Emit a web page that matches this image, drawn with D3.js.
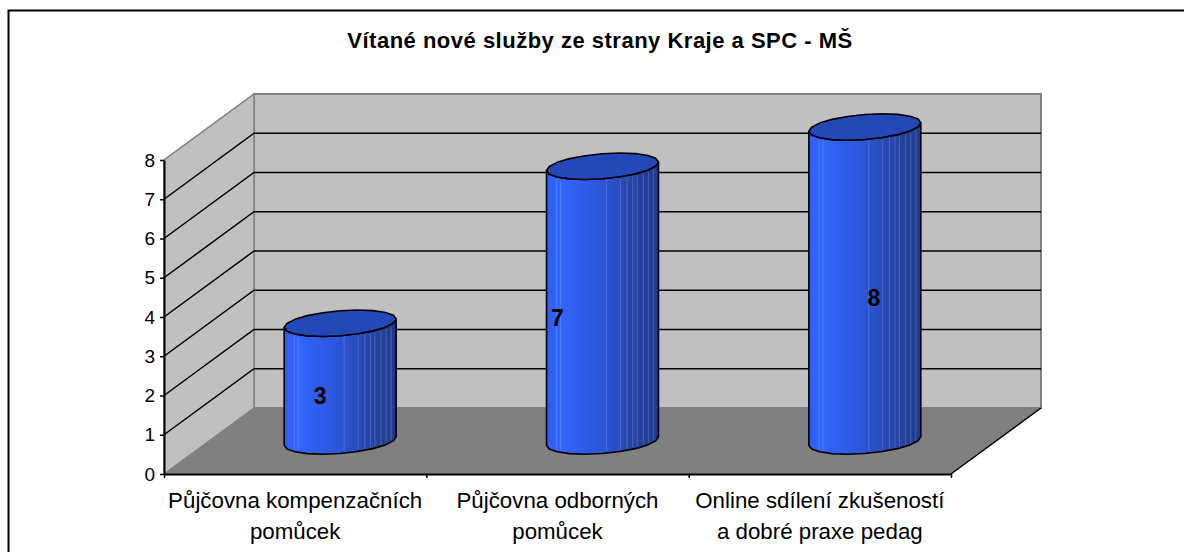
<!DOCTYPE html>
<html>
<head>
    <meta charset="utf-8">
    <title>Vítané nové služby</title>
    <script src="https://d3js.org/d3.v7.min.js"></script>
    <style>
        body, html { margin: 0; padding: 0; background: #fff; overflow: hidden; }
        text { font-family: 'Liberation Sans', Arial, sans-serif; fill: #000; }
        .title { font-size: 22px; font-weight: bold; text-anchor: middle; letter-spacing: 0.5px; }
        .cat-label { font-size: 22.3px; text-anchor: middle; }
        .val-label { font-size: 23px; font-weight: bold; text-anchor: middle; }
        .y-axis text { font-size: 19px; }
    </style>
</head>
<body>
<script>
    const titleText = "Vítané nové služby ze strany Kraje a SPC - MŠ";
    const categories = [
        ["Půjčovna kompenzačních", "pomůcek"],
        ["Půjčovna odborných", "pomůcek"],
        ["Online sdílení zkušeností", "a dobré praxe pedag"]
    ];
    const values = [3, 7, 8];
    const yTicks = [0, 1, 2, 3, 4, 5, 6, 7, 8];
    // hand placed labels in the original, sideways offset from the bar centre
    const labelShift = [-20, -45, 9];
    // light seams on the cylinder side, as a fraction of its width
    const seams = [0.09, 0.125, 0.535, 0.66, 0.72, 0.77, 0.81, 0.865, 0.91, 0.955];

    const width = 1184, height = 552;
    const depthX = 90, depthY = -66;

    const y = d3.scaleLinear().domain([0, 8]).range([474, 160]);
    const x = d3.scaleLinear().domain([0, 3]).range([164, 951]);

    const svg = d3.select("body").append("svg")
        .attr("width", width)
        .attr("height", height);

    const defs = svg.append("defs");
    const grad = defs.append("linearGradient").attr("id", "side");
    [[0, "#2e5ef0"], [0.12, "#3366ff"], [0.5, "#2c55d6"], [0.8, "#24449f"], [1, "#1f3a8c"]].forEach(s => {
        grad.append("stop").attr("offset", s[0]).attr("stop-color", s[1]);
    });

    // outer frame, runs off the picture on the right and bottom
    svg.append("rect")
        .attr("x", 8.5).attr("y", 10.5)
        .attr("width", 1300).attr("height", 700)
        .attr("fill", "#fff")
        .attr("stroke", "#000")
        .attr("stroke-width", 2);

    svg.append("text").attr("class", "title")
        .attr("x", 600).attr("y", 48)
        .text(titleText);

    const poly = d3.line();
    const x0 = x(0), x1 = x(3), y0 = y(0), y8 = y(8);

    // back wall
    svg.append("path")
        .attr("d", poly([[x0 + depthX, y8 + depthY], [x1 + depthX, y8 + depthY], [x1 + depthX, y0 + depthY], [x0 + depthX, y0 + depthY]]) + "Z")
        .attr("fill", "#c0c0c0").attr("stroke", "#808080").attr("stroke-width", 2);

    // side wall
    svg.append("path")
        .attr("d", poly([[x0, y0], [x0, y8], [x0 + depthX, y8 + depthY], [x0 + depthX, y0 + depthY]]) + "Z")
        .attr("fill", "#c0c0c0").attr("stroke", "#808080").attr("stroke-width", 1.5);

    // floor
    svg.append("path")
        .attr("d", poly([[x0, y0], [x1, y0], [x1 + depthX, y0 + depthY], [x0 + depthX, y0 + depthY]]) + "Z")
        .attr("fill", "#808080");

    // gridlines, side wall + back wall
    const grid = svg.append("g").attr("stroke", "#000").attr("stroke-width", 1.5).attr("fill", "none");
    yTicks.filter(d => d > 0 && d < 8).forEach(d => {
        grid.append("path")
            .attr("d", poly([[x0, y(d)], [x0 + depthX, y(d) + depthY], [x1 + depthX, y(d) + depthY]]));
    });

    svg.append("path")
        .attr("d", poly([[x1, y0], [x1 + depthX, y0 + depthY]]))
        .attr("stroke", "#000").attr("stroke-width", 1.5);

    // axes
    const yAxis = svg.append("g").attr("class", "y-axis")
        .attr("transform", `translate(${x0},0)`)
        .call(d3.axisLeft(y).tickValues(yTicks).tickSize(4).tickSizeOuter(0).tickPadding(5));
    yAxis.selectAll("line").attr("stroke", "#000").attr("stroke-width", 1.5);
    yAxis.select(".domain").attr("stroke", "#000").attr("stroke-width", 2);

    const xAxis = svg.append("g")
        .attr("transform", `translate(0,${y0})`)
        .call(d3.axisBottom(x).tickValues([0, 1, 2, 3]).tickFormat("").tickSize(4).tickSizeOuter(0));
    xAxis.selectAll("line").attr("stroke", "#000").attr("stroke-width", 1.5);
    xAxis.select(".domain").attr("stroke", "#000").attr("stroke-width", 2);

    categories.forEach((lines, i) => {
        const t = svg.append("text").attr("class", "cat-label");
        lines.forEach((line, j) => {
            t.append("tspan")
                .attr("x", x(i + 0.5))
                .attr("y", 508 + j * 31)
                .text(line);
        });
    });

    // cylinders, circle on the floor plane projected to the screen
    const rx = 53, rDepth = 0.2, steps = 20;
    const skewX = rDepth * depthX, skewY = rDepth * depthY;
    const phi = Math.atan2(skewX, rx);

    function rim(cx, cy, t) {
        return [cx + rx * Math.cos(t) + skewX * Math.sin(t), cy + skewY * Math.sin(t)];
    }

    values.forEach((v, i) => {
        const cx = x(i + 0.5) + depthX * 0.5;
        const base = y(0) + depthY * 0.5;
        const top = y(v) + depthY * 0.5;
        const g = svg.append("g");

        // front half of the rim, left to right
        const front = d3.range(steps / 2 + 1).map(k => phi - Math.PI + k * Math.PI / (steps / 2));
        const body = front.map(t => rim(cx, base, t))
            .concat(front.slice().reverse().map(t => rim(cx, top, t)));

        g.append("path")
            .attr("d", poly(body) + "Z")
            .attr("fill", "url(#side)")
            .attr("stroke", "#000")
            .attr("stroke-width", 1.6)
            .attr("stroke-linejoin", "round");

        seams.forEach(f => {
            const t = phi - Math.acos(2 * f - 1);
            const a = rim(cx, base, t), b = rim(cx, top, t);
            g.append("line")
                .attr("x1", a[0]).attr("y1", a[1] - 2)
                .attr("x2", b[0]).attr("y2", b[1] + 2)
                .attr("stroke", "#9db4ff")
                .attr("stroke-opacity", 0.3);
        });

        const lid = d3.range(steps).map(k => rim(cx, top, phi + k * 2 * Math.PI / steps));
        g.append("path")
            .attr("d", poly(lid) + "Z")
            .attr("fill", "#2349b8")
            .attr("stroke", "#000")
            .attr("stroke-width", 1.6)
            .attr("stroke-linejoin", "round");

        g.append("text").attr("class", "val-label")
            .attr("x", cx + labelShift[i])
            .attr("y", (base + top) / 2 + 22)
            .text(v);
    });
</script>
</body>
</html>
